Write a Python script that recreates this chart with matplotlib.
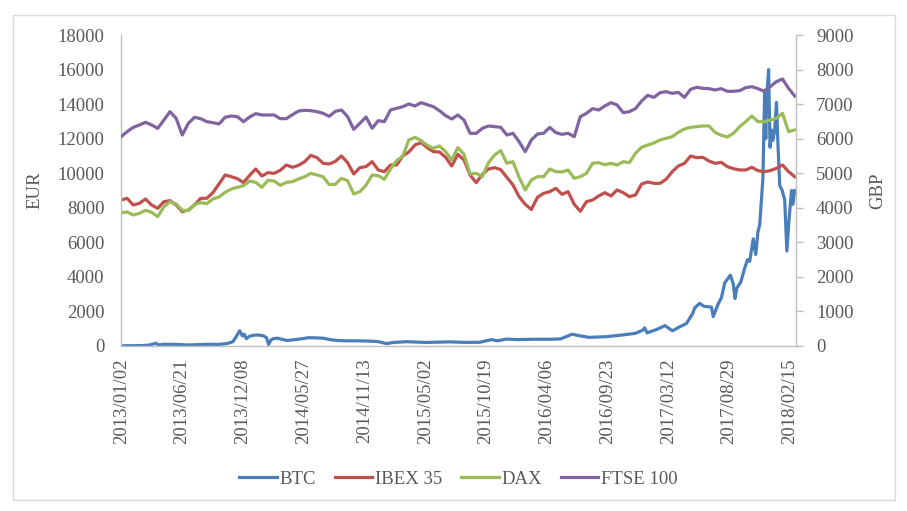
import matplotlib
matplotlib.use('Agg')
import matplotlib.pyplot as plt
from matplotlib.patches import Rectangle
import pandas as pd

plt.rcParams['font.family'] = ['Liberation Serif', 'DejaVu Serif']

# ---------------- data ----------------
# stock indices, sampled roughly every 17 days
idx_dates = pd.date_range('2013-01-01', '2018-03-01', periods=111)

ibex = [8450, 8547, 8161, 8258, 8508, 8161, 7968, 8354, 8412, 8161,
        7775, 7872, 8161, 8547, 8547, 8875, 9377, 9897, 9801, 9685,
        9454, 9878, 10245, 9840, 10033, 9994, 10168, 10476, 10341, 10457,
        10669, 11036, 10901, 10573, 10534, 10689, 10997, 10611, 9955, 10322,
        10380, 10669, 10187, 10090, 10476, 10476, 10997, 11229, 11634, 11769,
        11479, 11248, 11229, 10920, 10418, 11094, 10766, 9897, 9454, 9936,
        10245, 10322, 10206, 9763, 9319, 8643, 8200, 7900, 8605, 8836,
        8933, 9126, 8779, 8933, 8200, 7800, 8354, 8450, 8682, 8875,
        8682, 9029, 8875, 8643, 8740, 9377, 9492, 9415, 9415, 9647,
        10090, 10418, 10573, 10997, 10901, 10920, 10708, 10573, 10631, 10380,
        10264, 10187, 10187, 10341, 10148, 10090, 10148, 10283, 10476, 10090,
        9801]

dax = [7717, 7756, 7582, 7679, 7852, 7737, 7486, 8065, 8354, 8219,
       7852, 7833, 8200, 8296, 8238, 8508, 8624, 8894, 9087, 9184,
       9280, 9550, 9473, 9184, 9589, 9550, 9299, 9473, 9512, 9666,
       9801, 9994, 9897, 9801, 9338, 9357, 9705, 9569, 8798, 8933,
       9299, 9897, 9859, 9647, 10245, 10727, 10997, 11923, 12078, 11885,
       11615, 11441, 11576, 11248, 10766, 11479, 11100, 9955, 9994, 9801,
       10611, 11055, 11306, 10573, 10669, 9763, 9029, 9608, 9801, 9801,
       10245, 10090, 10071, 10187, 9705, 9801, 9994, 10573, 10611, 10496,
       10573, 10476, 10669, 10611, 11151, 11499, 11634, 11750, 11923, 12020,
       12116, 12367, 12560, 12657, 12695, 12734, 12734, 12367, 12193, 12097,
       12309, 12695, 12984, 13311, 12984, 12984, 13081, 13177, 13466, 12405,
       12502]

ftse = [6058, 6203, 6328, 6396, 6473, 6396, 6299, 6540, 6782, 6589,
        6106, 6444, 6618, 6579, 6492, 6463, 6425, 6618, 6656, 6637,
        6492, 6627, 6724, 6685, 6685, 6685, 6579, 6579, 6695, 6801,
        6820, 6811, 6782, 6733, 6647, 6791, 6830, 6637, 6270, 6444,
        6627, 6299, 6521, 6492, 6830, 6878, 6926, 7003, 6946, 7042,
        6984, 6926, 6811, 6666, 6569, 6685, 6540, 6155, 6155, 6299,
        6367, 6347, 6328, 6106, 6155, 5913, 5624, 5962, 6135, 6155,
        6328, 6174, 6126, 6155, 6058, 6637, 6733, 6869, 6830, 6946,
        7042, 6975, 6753, 6782, 6869, 7090, 7254, 7196, 7331, 7360,
        7312, 7341, 7196, 7428, 7486, 7457, 7447, 7409, 7447, 7370,
        7370, 7389, 7476, 7505, 7447, 7370, 7505, 7650, 7727, 7457,
        7235]

btc_dates = ['2013-01-02', '2013-02-01', '2013-03-01', '2013-03-20', '2013-04-09',
             '2013-04-16', '2013-05-01', '2013-06-01', '2013-07-05', '2013-08-01',
             '2013-09-01', '2013-10-01', '2013-10-25', '2013-11-10', '2013-11-18',
             '2013-11-29', '2013-12-07', '2013-12-12', '2013-12-18', '2013-12-26',
             '2014-01-06', '2014-01-20', '2014-02-05', '2014-02-12', '2014-02-18',
             '2014-02-24', '2014-03-03', '2014-03-15', '2014-04-10', '2014-04-25',
             '2014-05-25', '2014-06-10', '2014-07-01', '2014-07-20', '2014-08-18',
             '2014-09-20', '2014-10-20', '2014-11-18', '2014-12-20', '2015-01-14',
             '2015-02-01', '2015-03-10', '2015-05-05', '2015-07-10', '2015-08-20',
             '2015-10-01', '2015-11-04', '2015-11-20', '2015-12-15', '2016-01-15',
             '2016-03-01', '2016-04-15', '2016-05-15', '2016-06-16', '2016-07-10',
             '2016-08-03', '2016-09-20', '2016-11-05', '2016-12-10', '2016-12-31',
             '2017-01-05', '2017-01-12', '2017-02-07', '2017-02-25', '2017-03-03',
             '2017-03-24', '2017-04-13', '2017-05-02', '2017-05-11', '2017-05-20',
             '2017-05-25', '2017-06-08', '2017-06-20', '2017-07-11', '2017-07-16',
             '2017-07-29', '2017-08-08', '2017-08-17', '2017-08-26', '2017-09-02',
             '2017-09-10', '2017-09-15', '2017-09-20', '2017-10-01', '2017-10-12',
             '2017-10-20', '2017-10-26', '2017-11-05', '2017-11-12', '2017-11-18',
             '2017-11-23', '2017-11-28', '2017-12-02', '2017-12-07', '2017-12-10',
             '2017-12-12', '2017-12-18', '2017-12-22', '2017-12-26', '2017-12-30',
             '2018-01-04', '2018-01-09', '2018-01-13', '2018-01-18', '2018-01-25',
             '2018-02-01', '2018-02-07', '2018-02-13', '2018-02-20', '2018-02-24',
             '2018-03-01']

btc = [10, 16, 26, 50, 160,
       65, 100, 95, 60, 75,
       100, 95, 140, 250, 500,
       880, 580, 680, 420, 560,
       620, 640, 580, 480, 90,
       330, 430, 450, 320, 350,
       430, 480, 470, 450, 340,
       300, 300, 290, 260, 140,
       200, 250, 205, 240, 210,
       215, 370, 300, 400, 370,
       390, 390, 410, 680, 580,
       500, 540, 640, 730, 920,
       1050, 760, 950, 1120, 1180,
       880, 1110, 1300, 1600, 1900,
       2200, 2470, 2300, 2250, 1700,
       2400, 2800, 3650, 3900, 4100,
       3600, 2750, 3350, 3700, 4500,
       5000, 4900, 6200, 5300, 6600,
       7000, 8500, 9700, 14800, 12000,
       14200, 16000, 11500, 12500, 11900,
       12500, 14100, 11700, 9300, 9000,
       8450, 5500, 7300, 9000, 8200,
       9000]

x_tick_labels = ['2013/01/02', '2013/06/21', '2013/12/08', '2014/05/27',
                 '2014/11/13', '2015/05/02', '2015/10/19', '2016/04/06',
                 '2016/09/23', '2017/03/12', '2017/08/29', '2018/02/15']

series_names = ['BTC', 'IBEX 35', 'DAX', 'FTSE 100']
colors = ['#4A7EBB', '#C0504D', '#9BBB59', '#8064A2']

# ---------------- figure ----------------
W, H = 907, 511
fig = plt.figure(figsize=(W / 100, H / 100), dpi=100)

left, right, top, bottom = 121, 796.5, 35, 346
ax = fig.add_axes([left / W, 1 - bottom / H, (right - left) / W, (bottom - top) / H])
ax2 = ax.twinx()

btc_d = pd.to_datetime(btc_dates)
lw = 2.3
h1, = ax.plot(btc_d, btc, color=colors[0], lw=lw, solid_joinstyle='round')
h2, = ax.plot(idx_dates, ibex, color=colors[1], lw=lw, solid_joinstyle='round')
h3, = ax.plot(idx_dates, dax, color=colors[2], lw=lw, solid_joinstyle='round')
h4, = ax2.plot(idx_dates, ftse, color=colors[3], lw=lw, solid_joinstyle='round')

ax.set_xlim(pd.Timestamp('2013-01-01'), pd.Timestamp('2018-03-06'))
ax.set_ylim(0, 18000)
ax.set_yticks(range(0, 18001, 2000))
ax2.set_ylim(0, 9000)
ax2.set_yticks(range(0, 9001, 1000))

tick_dates = pd.to_datetime(x_tick_labels, format='%Y/%m/%d')
ax.set_xticks(tick_dates)
ax.set_xticklabels(x_tick_labels, rotation=90)

txt_color = '#595959'
axis_color = '#BFBFBF'
fs = 13.5

for a in (ax, ax2):
    a.spines['top'].set_visible(False)
    for s in a.spines.values():
        s.set_color(axis_color)
        s.set_linewidth(1)
ax.spines['right'].set_visible(False)
ax2.spines['left'].set_visible(False)
ax2.spines['bottom'].set_visible(False)

ax.tick_params(axis='y', length=0, pad=12, labelsize=fs, labelcolor=txt_color)
ax.tick_params(axis='x', length=0, pad=9, labelsize=fs, labelcolor=txt_color)
ax2.tick_params(axis='y', length=5, width=1, color=axis_color, pad=9,
                labelsize=fs, labelcolor=txt_color)

ax.set_ylabel('EUR', fontsize=fs, color=txt_color)
ax.yaxis.set_label_coords((43 - left) / (right - left), 0.5)
ax2.set_ylabel('GBP', fontsize=fs, color=txt_color, rotation=90)
ax2.yaxis.set_label_coords((869 - left) / (right - left), 0.5)

fig.legend([h1, h2, h3, h4], series_names, loc='center',
           bbox_to_anchor=(458.5 / W, 1 - 479 / H), ncol=4, frameon=False,
           handlelength=2.0, handletextpad=0.15, columnspacing=1.0,
           fontsize=fs, labelcolor=txt_color)

fig.patches.append(Rectangle((13 / W, 1 - 500 / H), 882 / W, 485 / H,
                             transform=fig.transFigure, fill=False,
                             edgecolor='#D9D9D9', lw=1))

fig.savefig('out.png', dpi=100)
